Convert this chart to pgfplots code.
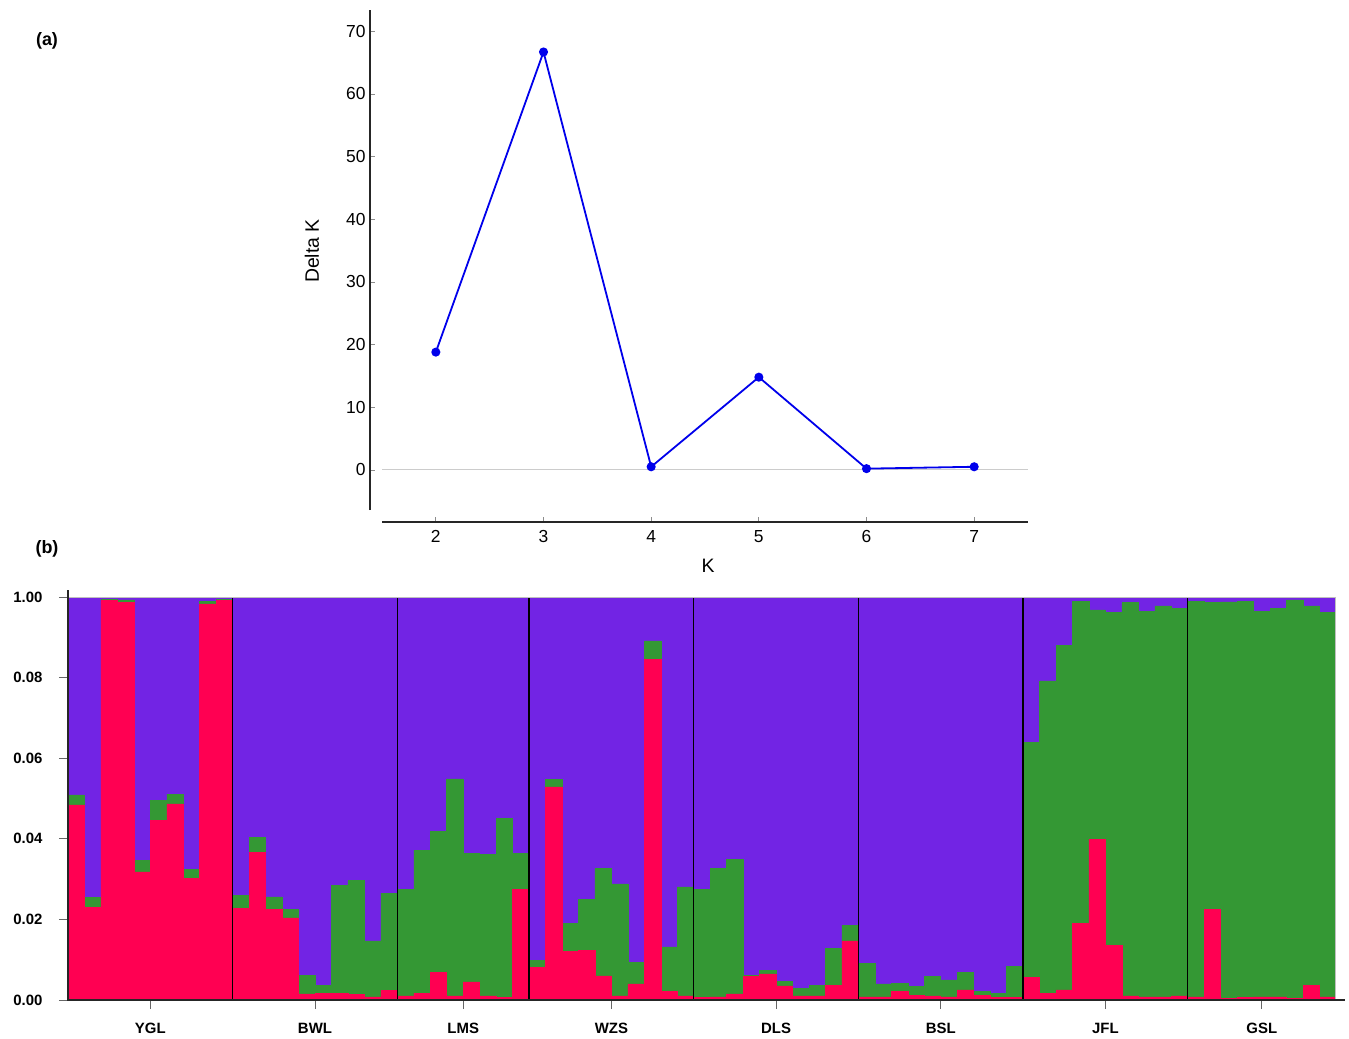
\documentclass[border=0pt]{standalone}
\usepackage{pgfplots}
\usepackage{pgfplotstable}
\pgfplotsset{compat=1.18}
\usetikzlibrary{calc}
\usepackage{fontspec}
\setmainfont{Liberation Sans}

\definecolor{kpurple}{RGB}{114,36,228}
\definecolor{kred}{RGB}{255,0,82}
\definecolor{kgreen}{RGB}{52,152,52}
\definecolor{kblue}{RGB}{0,0,235}

% individual ancestry (red, green, purple) - 77 individuals
\pgfplotstableread{
i red green purple
1 0.484 0.025 0.491
2 0.230 0.025 0.745
3 0.991 0.004 0.005
4 0.987 0.006 0.007
5 0.318 0.029 0.653
6 0.445 0.050 0.505
7 0.487 0.024 0.489
8 0.302 0.022 0.676
9 0.983 0.007 0.010
10 0.991 0.004 0.005
11 0.227 0.033 0.740
12 0.366 0.038 0.596
13 0.225 0.031 0.744
14 0.204 0.021 0.775
15 0.015 0.047 0.938
16 0.017 0.020 0.963
17 0.017 0.268 0.715
18 0.014 0.283 0.703
19 0.008 0.139 0.853
20 0.023 0.242 0.735
21 0.010 0.265 0.725
22 0.017 0.355 0.628
23 0.068 0.350 0.582
24 0.010 0.539 0.451
25 0.045 0.319 0.636
26 0.010 0.351 0.639
27 0.007 0.443 0.550
28 0.275 0.089 0.636
29 0.081 0.017 0.902
30 0.529 0.019 0.452
31 0.120 0.070 0.810
32 0.124 0.126 0.750
33 0.060 0.266 0.674
34 0.010 0.278 0.712
35 0.040 0.053 0.907
36 0.845 0.046 0.109
37 0.022 0.110 0.868
38 0.010 0.271 0.719
39 0.007 0.268 0.725
40 0.008 0.319 0.673
41 0.015 0.334 0.651
42 0.058 0.004 0.938
43 0.065 0.009 0.926
44 0.035 0.012 0.953
45 0.010 0.019 0.971
46 0.010 0.026 0.964
47 0.037 0.091 0.872
48 0.147 0.039 0.814
49 0.008 0.083 0.909
50 0.008 0.032 0.960
51 0.021 0.020 0.959
52 0.012 0.021 0.967
53 0.010 0.048 0.942
54 0.008 0.042 0.950
55 0.025 0.043 0.932
56 0.012 0.009 0.979
57 0.007 0.010 0.983
58 0.007 0.076 0.917
59 0.056 0.583 0.361
60 0.017 0.775 0.208
61 0.025 0.855 0.120
62 0.190 0.800 0.010
63 0.399 0.569 0.032
64 0.136 0.825 0.039
65 0.010 0.976 0.014
66 0.008 0.956 0.036
67 0.008 0.970 0.022
68 0.010 0.962 0.028
69 0.008 0.982 0.010
70 0.225 0.761 0.014
71 0.004 0.984 0.012
72 0.007 0.983 0.010
73 0.008 0.956 0.036
74 0.008 0.964 0.028
75 0.004 0.989 0.007
76 0.036 0.942 0.022
77 0.008 0.953 0.039
}\structdata

\begin{document}
\begin{tikzpicture}
\path[use as bounding box] (0,0) rectangle (1349bp,-1039bp);

% (a) Delta K
\begin{axis}[
    at={(382bp,-510bp)}, anchor=south west,
    width=646bp, height=500bp, scale only axis,
    xmin=1.5, xmax=7.5, ymin=-6.4, ymax=73.4,
    axis lines=left,
    axis line style={-, line width=1.3bp, black!85},
    axis x line shift=12bp, axis y line shift=12bp,
    tick align=inside, major tick length=5bp,
    tick style={black!45, line width=0.8bp},
    xtick={2,3,4,5,6,7}, ytick={0,10,20,30,40,50,60,70},
    ticklabel style={font=\fontsize{17.5}{20}\selectfont},
    xticklabel style={yshift=-5bp},
    yticklabel style={xshift=-1bp},
    /pgf/number format/assume math mode=true,
    clip=false,
]
\draw[black!20, line width=1bp] (axis cs:1.5,0) -- (axis cs:7.5,0);
\addplot[kblue, line width=1.8bp, mark=*, mark size=3.6bp]
    coordinates {(2,18.8) (3,66.7) (4,0.5) (5,14.8) (6,0.2) (7,0.5)};
\end{axis}
\node[rotate=90, font=\fontsize{19.5}{22}\selectfont] at (312bp,-251bp) {Delta K};
\node[font=\fontsize{19.5}{22}\selectfont] at (708bp,-566bp) {K};

% (b) structure plot
\begin{axis}[
    name=sb,
    at={(68bp,-1000bp)}, anchor=south west,
    width=1268bp, height=403bp, scale only axis,
    xmin=0.5, xmax=77.5, ymin=0, ymax=1,
    ybar stacked, bar width=1,
    axis x line*=bottom, axis y line*=left,
    axis line style={draw=none},
    tick align=outside, major tick length=9bp,
    tick style={black!60, line width=1bp},
    xtick={5.5,15.5,24.5,33.5,43.5,53.5,63.5,73},
    xticklabels={YGL,BWL,LMS,WZS,DLS,BSL,JFL,GSL},
    ytick={0,0.2,0.4,0.6,0.8,1},
    yticklabels={0.00,0.02,0.04,0.06,0.08,1.00},
    ticklabel style={font=\fontsize{15}{18}\bfseries},
    xticklabel style={yshift=-11bp},
    yticklabel style={xshift=-13bp},
]
\addplot[fill=kred, draw=kred, line width=0.5bp] table[x=i, y=red] {\structdata};
\addplot[fill=kgreen, draw=kgreen, line width=0.5bp] table[x=i, y=green] {\structdata};
\addplot[fill=kpurple, draw=kpurple, line width=0.5bp] table[x=i, y=purple] {\structdata};
\end{axis}
% population separators and frame
\foreach \s in {10,20,28,38,48,58,68}{
  \draw[black, line width=1.2bp] ($(sb.south west)!\s/77!(sb.south east)$) -- ($(sb.north west)!\s/77!(sb.north east)$);
}
\draw[black!25, line width=1bp] (sb.north west) -- (sb.north east) -- (sb.south east);
\draw[black!85, line width=1.3bp] ([yshift=7bp]sb.north west) -- (sb.south west) -- ([xshift=9bp]sb.south east);

\node[font=\fontsize{18}{21}\bfseries] at (47bp,-41bp) {(a)};
\node[font=\fontsize{18}{21}\bfseries] at (47bp,-549bp) {(b)};
\end{tikzpicture}
\end{document}
